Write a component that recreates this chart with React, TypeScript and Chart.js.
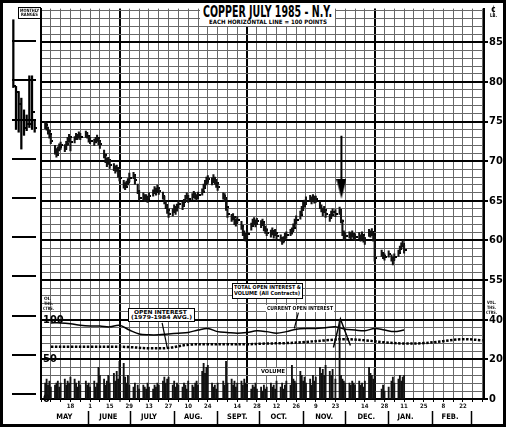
import React, { useEffect, useRef } from 'react';
import { Chart, registerables } from 'chart.js';

Chart.register(...registerables);

const COND = "'DejaVu Sans Condensed', 'DejaVu Sans', sans-serif";

// x values: calendar days counted from Friday 27 April 1984
const X_MAX = 316;
const PRICE_MIN = 40;
const PRICE_MAX = 89.25;
const OI_MAX = 492.5;
const VOL_MAX = 197;
const FIRST_MONDAY = 3;
const WEEKS = 37;

// daily bars, Mon..Fri per week (cents / lb), null = no session
const priceHigh = [
  75.0, 74.8, 74.3, 73.9, 73.3,
  72.0, 71.6, 71.8, 72.2, 72.4,
  72.1, 72.5, 73.0, 73.4, 73.1,
  73.1, 73.5, 73.4, 73.7, 73.5,
  null, 73.8, 73.6, 73.2, 73.0,
  72.8, 73.0, 73.3, 72.9, 72.6,
  71.4, 70.9, 70.4, 70.5, 70.2,
  69.7, 69.4, 69.5, 69.2, 68.6,
  67.6, 67.3, 67.5, 67.8, 68.5,
  68.6, 68.2, null, 67.1, 66.3,
  66.0, 65.8, 65.8, 65.6, 66.0,
  66.4, 66.8, 66.6, 67.0, 66.7,
  66.1, 65.6, 65.0, 64.5, 64.0,
  64.0, 64.5, 64.3, 64.6, 65.0,
  64.8, 65.2, 65.7, 66.0, 65.7,
  65.9, 66.2, 66.0, 65.8, 66.1,
  66.5, 67.1, 67.6, 68.0, 68.2,
  67.9, 68.3, 68.0, 67.7, 67.3,
  null, 66.0, 65.9, 65.2, 64.0,
  63.3, 63.4, 63.0, 62.7, 63.0,
  62.4, 61.9, 61.2, 60.9, 61.2,
  62.2, 62.7, 62.9, 62.6, 62.8,
  62.5, 62.7, 62.2, 61.8, 61.5,
  61.3, 61.6, 61.2, 61.4, 61.0,
  60.7, 60.4, 60.5, 60.9, 61.1,
  61.4, 61.6, 62.1, 62.7, 63.1,
  63.7, 64.3, 64.8, 65.1, 65.5,
  65.7, 65.5, 65.8, 65.6, 65.6,
  64.9, 64.5, 64.1, 64.3, 63.9,
  63.3, 63.7, 64.0, null, 63.9,
  64.2, 63.9, 62.6, 61.2, 61.0,
  61.1, 61.0, 61.2, 60.9, 60.8,
  61.0, 60.7, 61.1, 60.6, 60.4,
  61.4, 61.2, 61.5, 61.0, 60.6,
  null, null, 58.8, 58.5, 58.3,
  58.7, null, 58.2, 57.9, 58.3,
  58.8, 59.3, 59.7, 60.0, 59.4,
];
const priceLow = [
  74.1, 73.9, 73.4, 72.9, 72.2,
  70.9, 70.5, 70.7, 71.3, 71.5,
  71.2, 71.5, 72.0, 72.4, 71.3,
  72.3, 72.7, 72.7, 72.9, 72.7,
  null, 73.0, 72.9, 72.4, 72.2,
  72.0, 72.3, 72.5, 72.1, 71.6,
  70.4, 69.8, 69.3, 69.6, 69.1,
  68.8, 68.5, 68.7, 68.0, 67.5,
  66.6, 66.4, 66.7, 67.0, 67.4,
  67.8, 67.1, null, 65.9, 65.0,
  65.1, 64.9, 65.0, 64.8, 65.2,
  65.6, 65.9, 65.7, 66.1, 65.8,
  65.2, 64.6, 64.0, 63.4, 62.9,
  63.1, 63.6, 63.3, 63.7, 64.1,
  63.9, 64.3, 64.9, 65.2, 64.8,
  65.1, 65.4, 65.2, 65.0, 65.3,
  65.7, 66.1, 66.7, 67.0, 67.2,
  67.0, 67.3, 67.1, 66.7, 66.3,
  null, 65.2, 64.9, 63.8, 62.9,
  62.4, 62.6, 62.0, 61.8, 62.2,
  61.4, 60.6, 60.1, 59.9, 60.3,
  61.3, 61.8, 62.0, 61.7, 62.0,
  61.6, 61.9, 61.2, 60.9, 60.6,
  60.4, 60.7, 60.3, 60.6, 60.2,
  59.9, 59.5, 59.7, 60.1, 60.3,
  60.6, 60.8, 61.2, 61.7, 62.1,
  62.7, 63.3, 63.8, 64.2, 64.6,
  64.9, 64.6, 65.0, 64.7, 64.8,
  64.0, 63.6, 63.1, 63.5, 62.9,
  62.4, 62.8, 63.2, null, 63.0,
  63.3, 62.2, 60.6, 60.0, 60.2,
  60.3, 60.2, 60.4, 60.1, 60.0,
  60.2, 59.9, 60.3, 59.8, 59.5,
  60.5, 60.4, 60.6, 59.9, 57.4,
  null, null, 58.0, 57.7, 57.5,
  57.9, null, 57.4, 56.9, 57.5,
  58.0, 58.5, 58.9, 59.2, 58.4,
];
const priceClose = [
  74.6, 74.2, 73.8, 73.4, 72.6,
  71.2, 70.8, 71.4, 71.8, 72.0,
  71.6, 72.2, 72.6, 73.0, 72.4,
  72.8, 73.2, 73.0, 73.3, 73.1,
  null, 73.5, 73.2, 72.8, 72.6,
  72.4, 72.7, 72.9, 72.5, 72.2,
  70.8, 70.3, 69.8, 70.1, 69.5,
  69.2, 68.9, 69.1, 68.5, 67.9,
  67.0, 66.8, 67.1, 67.4, 67.9,
  68.3, 67.6, null, 66.2, 65.4,
  65.6, 65.3, 65.4, 65.2, 65.6,
  66.0, 66.4, 66.1, 66.6, 66.2,
  65.6, 65.0, 64.5, 63.9, 63.4,
  63.6, 64.1, 63.8, 64.2, 64.6,
  64.3, 64.8, 65.3, 65.6, 65.2,
  65.5, 65.8, 65.6, 65.4, 65.7,
  66.1, 66.6, 67.2, 67.5, 67.7,
  67.4, 67.8, 67.5, 67.2, 66.8,
  null, 65.6, 65.4, 64.2, 63.4,
  62.8, 63.0, 62.5, 62.2, 62.6,
  61.8, 61.0, 60.6, 60.4, 60.8,
  61.8, 62.3, 62.5, 62.1, 62.4,
  62.0, 62.3, 61.6, 61.3, 61.0,
  60.8, 61.2, 60.7, 61.0, 60.6,
  60.3, 59.9, 60.1, 60.5, 60.7,
  61.0, 61.2, 61.6, 62.2, 62.6,
  63.2, 63.8, 64.3, 64.6, 65.0,
  65.3, 65.0, 65.4, 65.1, 65.2,
  64.4, 64.0, 63.6, 63.9, 63.4,
  62.8, 63.2, 63.6, null, 63.4,
  63.8, 62.5, 61.0, 60.4, 60.6,
  60.7, 60.6, 60.8, 60.5, 60.4,
  60.6, 60.3, 60.7, 60.2, 60.0,
  61.0, 60.8, 61.1, 60.6, 57.8,
  null, null, 58.4, 58.1, 57.9,
  58.3, null, 57.8, 57.5, 57.9,
  58.4, 58.9, 59.3, 59.6, 58.8,
];
// daily volume, thousands of contracts
const volume = [
  8, 10, 7, 9, 6,
  7, 8, 9, 6, 8,
  10, 7, 9, 8, 11,
  10, 8, 6, 9, 7,
  null, 9, 7, 8, 6,
  9, 6, 8, 16, 12,
  10, 7, 9, 12, 8,
  13, 9, 14, 10, 19,
  18, 11, 8, 12, 7,
  6, 8, null, 7, 5,
  7, 6, 5, 8, 6,
  5, 7, 6, 8, 7,
  9, 11, 8, 10, 11,
  7, 9, 6, 8, 7,
  6, 8, 7, 5, 9,
  7, 6, 8, 9, 7,
  14, 18, 13, 16, 17,
  8, 6, 7, 5, 8,
  null, 9, 7, 19, 8,
  10, 7, 9, 6, 8,
  9, 7, 10, 8, 6,
  5, 7, 6, 8, 5,
  6, 4, 7, 5, 6,
  8, 6, 7, 5, 9,
  6, 8, 5, 7, 9,
  7, 17, 10, 9, 8,
  14, 12, 9, 11, 8,
  10, 7, 12, 9, 11,
  16, 13, 15, 12, 17,
  14, 12, 15, null, 10,
  40, 12, 10, 9, 8,
  8, 7, 9, 8, 7,
  9, 7, 8, 6, 9,
  16, 13, 12, 10, 15,
  null, null, 5, 7, 4,
  6, null, 9, 11, 8,
  10, 12, 9, 11, 12,
];

// total open interest (thousands), weekly Fridays
const oiDays = [7, 14, 21, 28, 35, 42, 49, 56, 63, 70, 77, 84, 91, 98, 105, 112, 119, 126, 133, 140, 147, 154, 161, 168, 175, 182, 189, 196, 203, 210, 217, 224, 231, 238, 245, 252, 259];
const oiCurrent = [96, 96, 95, 93, 92, 92, 91, 93, 87, 82, 81, 81, 82, 83, 84, 87, 89, 85, 84, 83, 84, 86, 85, 83, 85, 88, 89, 89, 90, 91, 88, 87, 86, 89, 87, 85, 87];
// 1979-1984 average open interest
const oiAvgDays = [7, 21, 35, 49, 63, 77, 91, 105, 119, 133, 147, 161, 175, 189, 203, 217, 231, 245, 259, 273, 287, 301, 315];
const oiAvg = [66, 66, 66, 66, 65.5, 64, 64.5, 68.5, 69, 69, 69, 70, 70.5, 72, 74, 75.5, 74, 71.5, 70, 70.5, 73, 75.5, 74];

// hand-drawn marks on the lower panel
const volumePeak = [{ x: 208.6, y: 65 }, { x: 213.6, y: 101 }, { x: 220.7, y: 67.5 }];
const avgPointer = [{ x: 86.4, y: 96 }, { x: 90, y: 65 }];
const curPointer = [{ x: 183.6, y: 109 }, { x: 180.7, y: 89 }];
const arrowShaft = [{ x: 214.3, y: 73.2 }, { x: 214.3, y: 67.6 }];
const arrowTip = [{ x: 214.3, y: 66.5 }];

const dateTickDays = [21, 35, 49, 63, 77, 91, 105, 119, 140, 154, 168, 182, 196, 210, 231, 245, 259, 273, 287, 301];
const dateTickLabels = ['18', '1', '15', '29', '13', '27', '10', '24', '14', '28', '12', '26', '9', '23', '14', '28', '11', '25', '8', '22'];
const monthNames = ['MAY', 'JUNE', 'JULY', 'AUG.', 'SEPT.', 'OCT.', 'NOV.', 'DEC.', 'JAN.', 'FEB.'];
const monthCenters = [16.6, 48, 77, 108.6, 140, 169.6, 202, 232, 260, 291.8];
const monthEnds = [34, 64, 95, 126, 156, 187, 217, 248, 279, 307];
const heavyWeekDays = [56, 147, 238];
const priceLabels = [55, 60, 65, 70, 75, 80, 85];
const volTickAt = [40, 45, 50];
const volTickLabels = ['0', '20', '40'];
const oiTicks = [0, 50, 100];

// monthly ranges panel
const monthlyCats = ['1', '2', '3', '4', '5', '6', '7', '8', '9'];
const monthlyHigh = [87.75, 79.25, 78.6, 77.75, 76.25, 75.6, 80.6, 80.6, 74.9];
const monthlyLow = [79.1, 73.75, 73.4, 71.25, 73.0, 73.6, 74.0, 73.75, 73.4];
const monthlyClose = [79.3, 78.5, 77.0, 75.0, 74.0, 74.5, 74.5, 76.0, 74.0];

let mctx: CanvasRenderingContext2D | null = null;
function textWidth(text: string, font: string) {
  if (!mctx) mctx = document.createElement('canvas').getContext('2d');
  mctx!.font = font;
  return mctx!.measureText(text).width || 1;
}

function Txt({ x, y, w, size, text, weight = 700 }: any) {
  const font = `${weight} ${size}px ${COND}`;
  const nat = textWidth(text, font);
  return (
    <div style={{ position: 'absolute', left: x, top: y, font, lineHeight: 1, whiteSpace: 'nowrap', transform: `scaleX(${w / nat})`, transformOrigin: 'left top', color: '#000' }}>{text}</div>
  );
}
function Box({ x, y, w, h, border = 1.5 }: any) {
  return <div style={{ position: 'absolute', left: x, top: y, width: w, height: h, background: '#fff', border: border ? `${border}px solid #000` : 'none', boxSizing: 'border-box' }} />;
}

function tickImage(w: number, h: number, draw: (g: CanvasRenderingContext2D) => void) {
  const c = document.createElement('canvas');
  c.width = w; c.height = h;
  const g = c.getContext('2d')!;
  g.fillStyle = '#000';
  draw(g);
  return c;
}

export default function App() {
  const mainRef = useRef<HTMLCanvasElement>(null);
  const leftRef = useRef<HTMLCanvasElement>(null);

  useEffect(() => {
    const tradingDays: number[] = [];
    for (let w = 0; w < WEEKS; w++) for (let d = 0; d < 5; d++) tradingDays.push(FIRST_MONDAY + 7 * w + d);

    const rangeData: any[] = [];
    const closeData: any[] = [];
    const volData: any[] = [];
    tradingDays.forEach((x, i) => {
      if (priceHigh[i] != null) {
        rangeData.push({ x, y: [priceLow[i], priceHigh[i]] });
        closeData.push({ x, y: priceClose[i] });
      }
      if (volume[i] != null) volData.push({ x, y: volume[i] });
    });

    const closeTick = tickImage(5, 2, (g) => g.fillRect(3, 0, 2, 2));
    const arrowHead = tickImage(10, 20, (g) => {
      g.beginPath(); g.moveTo(0, 0); g.lineTo(10, 0); g.lineTo(5, 20); g.closePath(); g.fill();
    });

    const weekTicks: number[] = [];
    for (let v = 0; v <= X_MAX; v += 7) weekTicks.push(v);
    const priceGrid: number[] = [];
    for (let v = PRICE_MIN; v <= PRICE_MAX; v += 1) priceGrid.push(v);
    const monthTicks = [...monthEnds, ...monthCenters].sort((a, b) => a - b);

    const rightLabel = (v: number) => {
      if (priceLabels.includes(v)) return String(v);
      const i = volTickAt.indexOf(v);
      return i >= 0 ? volTickLabels[i] : '';
    };
    const thin = '#686868';

    const line = (data: any[], axis: string, extra: any = {}) => ({
      type: 'line', data, yAxisID: axis, borderColor: '#000', borderWidth: 1.2, pointRadius: 0, tension: 0, fill: false, ...extra,
    });

    const main = new Chart(mainRef.current!, {
      type: 'bar',
      data: {
        datasets: [
          { type: 'bar', data: rangeData, yAxisID: 'y', backgroundColor: '#111', barThickness: 1.4, grouped: false } as any,
          { type: 'line', data: closeData, yAxisID: 'y', showLine: false, pointStyle: closeTick, pointRadius: 2 } as any,
          { type: 'bar', data: volData, yAxisID: 'yVol', backgroundColor: '#111', barThickness: 1.2, grouped: false } as any,
          line(oiDays.map((x, i) => ({ x, y: oiCurrent[i] })), 'yOI', { borderWidth: 1.5, tension: 0.35 }),
          line(oiAvgDays.map((x, i) => ({ x, y: oiAvg[i] })), 'yOI', { borderWidth: 2.5, borderDash: [2.5, 1.5], tension: 0.35 }),
          line(volumePeak, 'yOI', { borderWidth: 1.5 }),
          line(avgPointer, 'yOI'),
          line(curPointer, 'yOI'),
          line(arrowShaft, 'y', { borderWidth: 2 }),
          { type: 'line', data: arrowTip, yAxisID: 'y', showLine: false, pointStyle: arrowHead, pointRadius: 5 } as any,
        ],
      },
      options: {
        animation: false,
        responsive: false,
        maintainAspectRatio: false,
        layout: { padding: { left: 41, top: 3, right: 0, bottom: 2 } },
        plugins: { legend: { display: false }, tooltip: { enabled: false } },
        scales: {
          x: {
            type: 'linear', min: 0, max: X_MAX, offset: false, position: 'bottom',
            afterBuildTicks: (s: any) => { s.ticks = weekTicks.map((value) => ({ value })); },
            afterFit: (s: any) => { s.height = 12; },
            grid: {
              offset: false,
              color: (c: any) => (c.tick && heavyWeekDays.includes(c.tick.value) ? '#000' : thin),
              lineWidth: (c: any) => (c.tick && heavyWeekDays.includes(c.tick.value) ? 2 : 1),
              drawTicks: true, tickLength: 3, tickColor: '#000', tickWidth: 1,
            },
            border: { display: true, color: '#000', width: 2 },
            ticks: {
              autoSkip: false, maxRotation: 0, padding: 1, color: '#111',
              font: { size: 6, weight: 'bold', family: COND },
              callback: (v: any) => { const i = dateTickDays.indexOf(v); return i >= 0 ? dateTickLabels[i] : ''; },
            },
          },
          xm: {
            type: 'linear', min: 0, max: X_MAX, offset: false, position: 'bottom',
            afterBuildTicks: (s: any) => { s.ticks = monthTicks.map((value) => ({ value })); },
            afterFit: (s: any) => { s.height = 14; },
            grid: {
              offset: false, drawOnChartArea: false, drawTicks: true, tickLength: 14, tickWidth: 1.5,
              tickColor: (c: any) => (c.tick && monthEnds.includes(c.tick.value) ? '#000' : 'rgba(0,0,0,0)'),
            },
            border: { display: false },
            ticks: {
              autoSkip: false, maxRotation: 0, padding: -12, color: '#000',
              font: { size: 7.5, weight: 'bold', family: COND },
              callback: (v: any) => { const i = monthCenters.indexOf(v); return i >= 0 ? monthNames[i] : ''; },
            },
          },
          y: {
            type: 'linear', position: 'right', min: PRICE_MIN, max: PRICE_MAX,
            afterBuildTicks: (s: any) => { s.ticks = priceGrid.map((value) => ({ value })); },
            afterFit: (s: any) => { s.width = 22; },
            grid: {
              color: (c: any) => (c.tick && c.tick.value % 5 === 0 ? '#000' : thin),
              lineWidth: (c: any) => (c.tick && c.tick.value % 5 === 0 ? 2 : 1),
              drawTicks: true, tickLength: 4, tickWidth: 2,
              tickColor: (c: any) => (c.tick && rightLabel(c.tick.value) ? '#000' : 'rgba(0,0,0,0)'),
            },
            border: { display: true, color: '#000', width: 2 },
            ticks: {
              autoSkip: false, padding: 1, color: '#000',
              font: { size: 11, weight: 'bold', family: COND },
              callback: (v: any) => rightLabel(v),
            },
          },
          yOI: {
            type: 'linear', position: 'left', min: 0, max: OI_MAX,
            afterBuildTicks: (s: any) => { s.ticks = oiTicks.map((value) => ({ value })); },
            afterFit: (s: any) => { s.width = 0; },
            grid: { display: false, drawTicks: false },
            border: { display: true, color: '#000', width: 2 },
            ticks: { mirror: true, padding: 2, color: '#000', font: { size: 11, weight: 'bold', family: COND }, callback: (v: any) => String(v) },
          },
          yVol: { type: 'linear', display: false, min: 0, max: VOL_MAX },
        } as any,
      },
    } as any);

    const left = new Chart(leftRef.current!, {
      type: 'bar',
      data: {
        labels: monthlyCats,
        datasets: [
          { data: monthlyLow.map((l, i) => [l, monthlyHigh[i]]), backgroundColor: '#000', barThickness: 1.6, grouped: false } as any,
          { type: 'line', data: monthlyClose, showLine: false, pointStyle: closeTick, pointRadius: 2 } as any,
        ],
      },
      options: {
        animation: false,
        responsive: false,
        maintainAspectRatio: false,
        layout: { padding: 0 },
        plugins: { legend: { display: false }, tooltip: { enabled: false } },
        scales: {
          x: { display: false },
          y: {
            min: PRICE_MIN, max: PRICE_MAX,
            afterBuildTicks: (s: any) => { s.ticks = [40, 45, 50, 55, 60, 65, 70, 75, 80, 85].map((value) => ({ value })); },
            afterFit: (s: any) => { s.width = 0; },
            grid: { color: '#000', lineWidth: 2, drawTicks: false },
            border: { display: false },
            ticks: { display: false },
          },
        } as any,
      },
    } as any);

    return () => { main.destroy(); left.destroy(); };
  }, []);

  return (
    <div style={{ position: 'absolute', left: 0, top: 0, width: 506, height: 427, background: '#fff', overflow: 'hidden' }}>
      <canvas ref={mainRef} width={506} height={427} style={{ position: 'absolute', left: 0, top: 0 }} />
      <canvas ref={leftRef} width={34} height={396} style={{ position: 'absolute', left: 7, top: 3 }} />

      <Box x={200} y={3} w={135} h={23} border={0} />
      <Txt x={203} y={5} w={129} size={15} text="COPPER JULY 1985 - N.Y." />
      <Txt x={209} y={18.5} w={118} size={6} text="EACH HORIZONTAL LINE = 100 POINTS" />

      <Txt x={490.5} y={5} w={5} size={9} text="¢" />
      <Txt x={489.5} y={13} w={7} size={5} text="LB." />

      <Box x={18} y={7} w={23} h={12} border={1} />
      <Txt x={20} y={8.5} w={19} size={4.5} text="MONTHLY" />
      <Txt x={21} y={13} w={17} size={4.5} text="RANGES" />

      <Box x={128} y={308} w={67} h={14} />
      <Txt x={134} y={309.5} w={55} size={5.5} text="OPEN  INTEREST" />
      <Txt x={131} y={315} w={61} size={5.5} text="(1979-1984 AVG.)" />

      <Box x={232} y={283} w={71} h={16} />
      <Txt x={234} y={284.5} w={67} size={5.5} text="TOTAL OPEN INTEREST &" />
      <Txt x={234} y={290.5} w={66} size={5.5} text="VOLUME (All Contracts)" />

      <Box x={266} y={305} w={68} h={7} border={0} />
      <Txt x={267} y={306} w={66} size={5.5} text="CURRENT OPEN INTEREST" />

      <Box x={260} y={368} w={26} h={7} border={0} />
      <Txt x={261} y={369} w={24} size={5.5} text="VOLUME" />

      <Txt x={44} y={297} w={7} size={4.5} text="OI." />
      <Txt x={44} y={302} w={9} size={4.5} text="THS." />
      <Txt x={43} y={307} w={11} size={4.5} text="CTRS." />

      <Txt x={487} y={301} w={9} size={4.5} text="VOL." />
      <Txt x={487} y={306} w={9} size={4.5} text="THS." />
      <Txt x={486} y={311} w={11} size={4.5} text="CTRS." />

      <div style={{ position: 'absolute', left: 0, top: 0, width: 506, height: 427, border: '3px solid #000', boxSizing: 'border-box', pointerEvents: 'none' }} />
    </div>
  );
}
